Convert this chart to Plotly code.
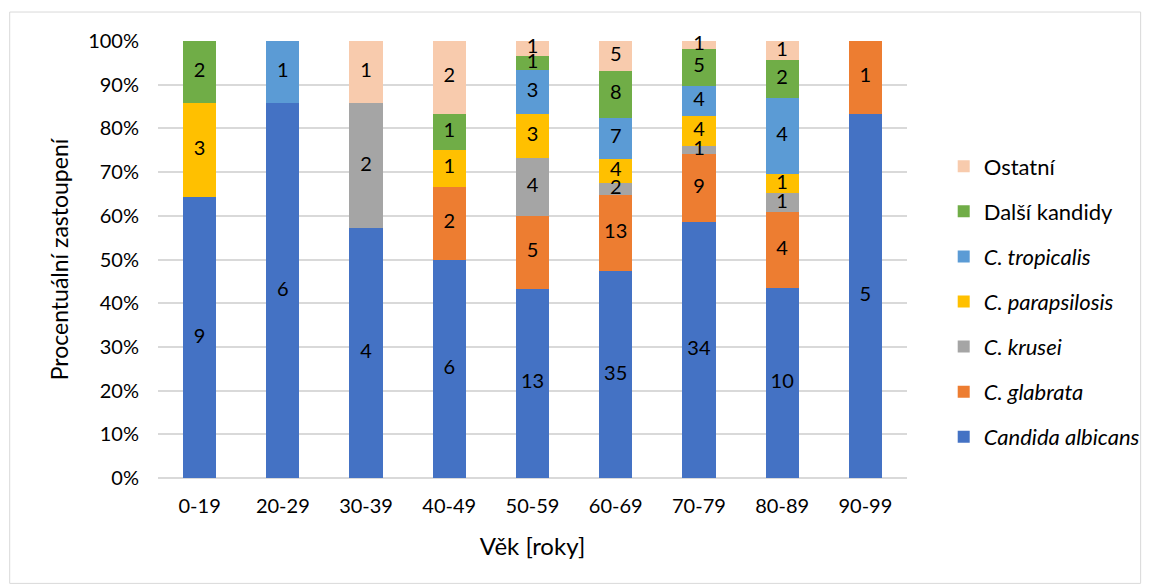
import plotly.graph_objects as go

categories = ["0-19", "20-29", "30-39", "40-49", "50-59", "60-69", "70-79", "80-89", "90-99"]

albicans     = [9, 6, 4, 6, 13, 35, 34, 10, 5]
glabrata     = [0, 0, 0, 2, 5, 13, 9, 4, 1]
krusei       = [0, 0, 2, 0, 4, 2, 1, 1, 0]
parapsilosis = [3, 0, 0, 1, 3, 4, 4, 1, 0]
tropicalis   = [0, 1, 0, 0, 3, 7, 4, 4, 0]
dalsi        = [2, 0, 0, 1, 1, 8, 5, 2, 0]
ostatni      = [0, 0, 1, 2, 1, 5, 1, 1, 0]

series = [
    ("<i>Candida albicans</i>", albicans, "#4472C4"),
    ("<i>C. glabrata</i>", glabrata, "#ED7D31"),
    ("<i>C. krusei</i>", krusei, "#A5A5A5"),
    ("<i>C. parapsilosis</i>", parapsilosis, "#FFC000"),
    ("<i>C. tropicalis</i>", tropicalis, "#5B9BD5"),
    ("Další kandidy", dalsi, "#70AD47"),
    ("Ostatní", ostatni, "#F8CBAD"),
]

totals = [sum(s[1][j] for s in series) for j in range(len(categories))]

FONT = "Lato"
TXT = 20
fig = go.Figure()
for i, (name, vals, color) in enumerate(series):
    fig.add_trace(go.Bar(
        x=categories, y=vals, name=name,
        marker=dict(color=color, line=dict(width=0)),
        textposition="none",
        legendgroup=f"g{i}",
        legendrank=100 - i,
    ))

# value labels at the middle of each segment (percent scale)
cum = [0] * len(categories)
for i, (name, vals, color) in enumerate(series):
    xs, ys, ts = [], [], []
    for j, v in enumerate(vals):
        if v:
            xs.append(categories[j])
            ys.append((cum[j] + v / 2) / totals[j] * 100)
            ts.append(str(v))
        cum[j] += v
    fig.add_trace(go.Scatter(
        x=xs, y=ys, text=ts, mode="text", showlegend=False,
        textfont=dict(color="black", size=TXT, family=FONT),
        textposition="middle center", cliponaxis=False, hoverinfo="skip",
    ))

W, H = 1157, 587
L, R, T, B = 158, 913, 40.5, 478

def px(x):
    return (x - L) / (R - L)

def py(y):
    return (B - y) / (B - T)

fig.update_layout(
    width=W, height=H,
    margin=dict(l=L, r=W - R, t=T, b=H - B),
    barmode="stack", barnorm="percent", bargap=0.6,
    plot_bgcolor="white", paper_bgcolor="white",
    font=dict(family=FONT, size=20, color="#000000"),
    showlegend=True,
    legend=dict(
        x=px(950), y=py(145), xanchor="left", yanchor="top",
        traceorder="grouped", tracegroupgap=13.5,
        font=dict(size=22, family=FONT), itemwidth=30,
        bgcolor="rgba(0,0,0,0)",
    ),
    xaxis=dict(
        showgrid=False, ticks="", showline=False,
        tickfont=dict(size=20), ticklabelstandoff=14,
        title=dict(text="Věk [roky]", font=dict(size=24), standoff=22),
    ),
    yaxis=dict(
        range=[0, 100], dtick=10, ticksuffix="%",
        showgrid=True, gridcolor="#D9D9D9", gridwidth=1.5,
        zeroline=True, zerolinecolor="#D9D9D9", zerolinewidth=1.5,
        ticks="", tickfont=dict(size=20), ticklabelstandoff=18,
        title=dict(text="Procentuální zastoupení", font=dict(size=23), standoff=13),
    ),
    shapes=[dict(
        type="rect", xref="paper", yref="paper",
        x0=px(8.5), x1=px(1148.5), y0=py(583.5), y1=py(11.5),
        line=dict(color="#D9D9D9", width=1), fillcolor="rgba(0,0,0,0)", layer="below",
    )],
)

fig.write_html("out.html")
